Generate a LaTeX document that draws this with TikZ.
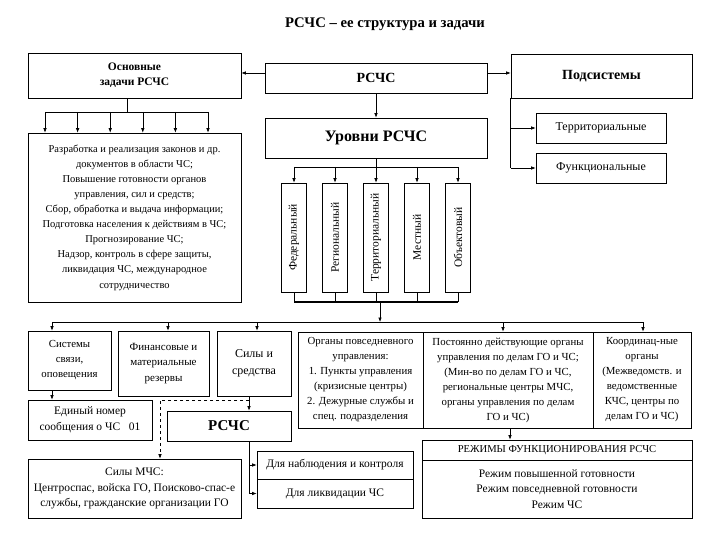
\documentclass[tikz,border=0pt]{standalone}
\usepackage{fontspec}
\setmainfont{Liberation Serif}
\usetikzlibrary{arrows.meta}
\begin{document}
\begin{tikzpicture}[x=1pt,y=-1pt,
  box/.style={draw, line width=0.6pt, inner sep=1pt, align=center, font=\fontsize{10.8}{15}\selectfont},
  head/.style={box, font=\bfseries\fontsize{14}{16}\selectfont},
  arr/.style={-{Latex[length=4.5pt,width=3.5pt]}, line width=0.6pt},
  ln/.style={line width=0.6pt},
  vtext/.style={rotate=90, font=\fontsize{11.5}{13}\selectfont}]
\useasboundingbox (0,0) rectangle (720,540);
\fill[white] (0,0) rectangle (720,540);

% title
\node[font=\bfseries\fontsize{14.7}{16}\selectfont] (title) at (385,24) {РСЧС – ее структура и задачи};

% top row
\node[box, font=\bfseries\fontsize{11.5}{15}\selectfont, minimum width=213, minimum height=45] (osn) at (134.5,75.5) {Основные\\задачи РСЧС};
\node[head, minimum width=222, minimum height=30] (rschs) at (376,78) {РСЧС};
\node[head, minimum width=181, minimum height=44] (podsys) at (601.5,76) {Подсистемы};
\node[box, font=\fontsize{12}{13}\selectfont, minimum width=130, minimum height=30] (terr) at (601,128) {Территориальные};
\node[box, font=\fontsize{12}{13}\selectfont, minimum width=130, minimum height=30] (func) at (601,168) {Функциональные};
\node[box, font=\bfseries\fontsize{16}{18}\selectfont, minimum width=222, minimum height=40] (urov) at (376,138) {Уровни РСЧС};

% tasks
\node[box, font=\fontsize{10.5}{15.1}\selectfont, minimum width=213, minimum height=169] (tasks) at (134.5,217.5)
 {Разработка и реализация законов и др.\\документов в области ЧС;\\Повышение готовности органов\\управления, сил и средств;\\Сбор, обработка и выдача информации;\\Подготовка населения к действиям  в ЧС;\\Прогнозирование ЧС;\\Надзор, контроль в сфере защиты,\\ликвидация ЧС, международное\\сотрудничество};

% levels
\foreach \n/\x/\t in {l1/294/Федеральный, l2/335/Региональный, l3/376/Территориальный, l4/417/Местный, l5/458/Объектовый}{
  \node[box, minimum width=25, minimum height=109] (\n) at (\x,237.5) {};
  \node[vtext] (\n t) at (\n) {\t};
}

% second row
\node[box, minimum width=83, minimum height=59] (sys) at (69.5,360.5) {Системы\\связи,\\оповещения};
\node[box, font=\fontsize{11}{15.5}\selectfont, minimum width=91, minimum height=65] (fin) at (163.5,363.5) {Финансовые и\\материальные\\резервы};
\node[box, font=\fontsize{12}{17}\selectfont, minimum width=74, minimum height=65] (sily) at (254,363.5) {Силы и\\средства};
\node[box, minimum width=125, minimum height=96] (org1) at (360.5,380) {Органы повседневного\\управления:\\1. Пункты управления\\(кризисные центры)\\2. Дежурные службы и\\спец. подразделения};
\node[box, minimum width=170, minimum height=96] (org2) at (508,380) {Постоянно действующие органы\\управления по делам ГО и ЧС;\\(Мин-во по делам ГО и ЧС,\\региональные центры МЧС,\\органы управления по делам\\ГО и ЧС)};
\node[box, minimum width=98, minimum height=96] (org3) at (642,380) {Координац-ные\\органы\\(Межведомств. и\\ведомственные\\КЧС, центры по\\делам ГО и ЧС)};

% third row
\node[box, font=\fontsize{11.5}{16}\selectfont, minimum width=124, minimum height=40] (edin) at (90,420) {Единый номер\\сообщения о ЧС \ \ 01};
\node[head, font=\bfseries\fontsize{15}{17}\selectfont, minimum width=124, minimum height=30] (rschs2) at (229,426) {РСЧС};
\node[box, font=\fontsize{11.5}{15.5}\selectfont, minimum width=213, minimum height=59] (mchs) at (134.5,488.5) {Силы МЧС:\\Центроспас, войска ГО, Поисково-спас-е\\службы, гражданские организации ГО};
\node[box, font=\fontsize{11.5}{13}\selectfont, minimum width=156, minimum height=28] (nabl) at (335,465) {Для наблюдения и контроля};
\node[box, font=\fontsize{11.5}{13}\selectfont, minimum width=156, minimum height=29] (likv) at (335,493.5) {Для ликвидации ЧС};
\node[box, font=\fontsize{10.6}{12}\selectfont, minimum width=270, minimum height=20] (rezh) at (557,450) {РЕЖИМЫ ФУНКЦИОНИРОВАНИЯ  РСЧС};
\node[box, font=\fontsize{11.5}{15.5}\selectfont, minimum width=270, minimum height=58] (rezhb) at (557,489) {Режим повышенной готовности\\Режим повседневной готовности\\Режим ЧС};

% connectors top
\draw[arr] ([yshift=5pt]rschs.west) -- ([yshift=5pt]rschs.west -| osn.east);
\draw[arr] ([yshift=5pt]rschs.east) -- ([yshift=5pt]rschs.east -| podsys.west);
\draw[arr] (rschs.south) -- (urov.north);
\coordinate (pb) at (podsys.south west);
\draw[ln] (pb) -- (pb |- func.west);
\draw[arr] (pb |- terr.west) -- (terr.west);
\draw[arr] (pb |- func.west) -- (func.west);

% tasks bus
\coordinate (tb) at (127,112);
\draw[ln] (osn.south -| tb) -- (tb);
\draw[ln] (45,112) -- (208,112);
\foreach \x in {45,77.6,110.2,142.8,175.4,208}{
  \draw[arr] (\x,112) -- (tasks.north -| \x,112);
}

% levels bus
\coordinate (lb) at (376,167);
\draw[ln] (urov.south) -- (lb);
\draw[ln] (l1.north |- lb) -- (l5.north |- lb);
\foreach \n in {l1,l2,l3,l4,l5}{
  \draw[arr] (\n.north |- lb) -- (\n.north);
}
\coordinate (lbb) at (380,302);
\foreach \n in {l1,l2,l3,l4,l5}{
  \draw[ln] (\n.south) -- (\n.south |- lbb);
}
\draw[line width=1.8pt] (l1.south |- lbb) -- (l5.south |- lbb);

% second bus
\coordinate (sb) at (380,322);
\draw[arr] (lbb) -- (sb);
\draw[ln] (52,322) -- (643,322);
\draw[arr] (52,322) -- (sys.north -| 52,322);
\draw[arr] (168,322) -- (fin.north -| 168,322);
\draw[arr] (257,322) -- (sily.north -| 257,322);
\draw[arr] (503,322) -- (org2.north -| 503,322);
\draw[arr] (643,322) -- (org3.north -| 643,322);

% lower connectors
\draw[arr] (sys.south -| 52,0) -- (edin.north -| 52,0);
\coordinate (sv) at (249,400);
\draw[arr] (sily.south -| sv) -- (rschs2.north -| sv);
\draw[ln, dashed, -{Latex[length=4.5pt,width=3.5pt]}] (sv) -- (160,400) -- (mchs.north -| 160,400);
\coordinate (rv) at (249,441);
\draw[ln] (rschs2.south -| rv) -- (rv |- likv.west);
\draw[arr] (rv |- nabl.west) -- (nabl.west);
\draw[arr] (rv |- likv.west) -- (likv.west);
\draw[arr] (org2.south -| 510,0) -- (rezh.north -| 510,0);
\end{tikzpicture}
\end{document}
